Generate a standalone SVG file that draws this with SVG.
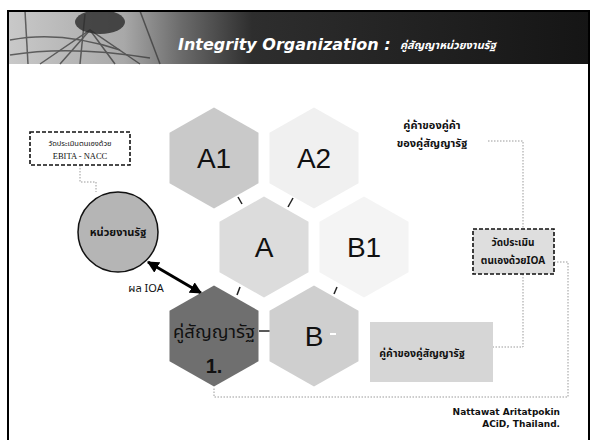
<svg xmlns="http://www.w3.org/2000/svg" width="592" height="440" viewBox="0 0 592 440">
<style>
.th{font-family:"Noto Sans Thai","Noto Sans","DejaVu Sans",sans-serif}
.lbl{font-family:"Liberation Sans",Arial,sans-serif;font-size:28px;fill:#111;text-anchor:middle}
.tick{stroke:#222;stroke-width:1.5;fill:none}
.dot{stroke:#9a9a9a;stroke-width:1;stroke-dasharray:1.5 1.5;fill:none}
.dash{stroke:#111;stroke-width:1.6;stroke-dasharray:4 2}
.bt{font-weight:bold;fill:#111;text-anchor:middle}
</style>
<defs>
<path id="hex" d="M0,-50.5 L44.5,-25.25 L44.5,25.25 L0,50.5 L-44.5,25.25 L-44.5,-25.25 Z"/>
<linearGradient id="hdr" x1="0" y1="0" x2="1" y2="0">
<stop offset="0" stop-color="#c9c9c9"/>
<stop offset="0.2" stop-color="#a8a8a8"/>
<stop offset="0.3" stop-color="#6a6a6a"/>
<stop offset="0.42" stop-color="#2e2e2e"/>
<stop offset="1" stop-color="#151515"/>
</linearGradient>
<marker id="ah" viewBox="0 0 10 10" refX="9" refY="5" markerWidth="4" markerHeight="4" orient="auto-start-reverse" markerUnits="strokeWidth">
<path d="M0,0 L10,5 L0,10 Z" fill="#000"/>
</marker>
</defs>
<rect width="592" height="440" fill="#fff"/>
<g id="header">
<rect x="8" y="11" width="581" height="53" fill="url(#hdr)"/>
<g stroke="#333" stroke-width="1.5" fill="none" opacity="0.7">
<path d="M25,11 L28,64"/>
<path d="M85,14 L80,64"/>
<path d="M140,11 L160,64"/>
<path d="M10,40 Q60,30 120,50"/>
<path d="M10,55 Q70,45 150,58"/>
<path d="M40,64 L90,30 L140,64"/>
<path d="M90,30 L60,64 M90,30 L115,64"/>
</g>
<ellipse cx="100" cy="22" rx="25" ry="12" fill="#2a2a2a" opacity="0.8"/>
<text x="178" y="50" font-family="DejaVu Sans,Verdana,sans-serif" font-size="16" font-weight="bold" font-style="italic" fill="#fff">Integrity Organization :</text>
<text x="400" y="49" class="th" font-size="11" font-weight="bold" font-style="italic" fill="#fff">คู่สัญญาหน่วยงานรัฐ</text>
</g>
<rect id="frame" x="8" y="11" width="581" height="440" fill="none" stroke="#000" stroke-width="2"/>
<g id="connectors">
<path class="dot" d="M80,165 V182 H96 V192"/>
<path class="dot" d="M488,141 H523 V229"/>
<path class="dot" d="M554,262 H568 V397 H214 V387"/>
<path class="dot" d="M523,274 V347 H493"/>
<line class="tick" x1="238" y1="197" x2="242" y2="204"/>
<line class="tick" x1="293" y1="198" x2="288" y2="207"/>
<line class="tick" x1="240" y1="287" x2="237" y2="295"/>
<line class="tick" x1="337" y1="287" x2="334" y2="294"/>
<line class="tick" x1="259" y1="331" x2="270" y2="331"/>
<line x1="148" y1="262" x2="201" y2="293" stroke="#000" stroke-width="3" marker-start="url(#ah)" marker-end="url(#ah)"/>
</g>
<g id="hexA1"><use href="#hex" x="214" y="158" fill="#c9c9c9"/><text class="lbl" x="214" y="168">A1</text></g>
<g id="hexA2"><use href="#hex" x="314" y="158" fill="#f0f0f0"/><text class="lbl" x="314" y="168">A2</text></g>
<g id="hexA"><use href="#hex" x="264" y="247" fill="#dcdcdc"/><text class="lbl" x="264" y="257">A</text></g>
<g id="hexB1"><use href="#hex" x="364" y="247" fill="#f4f4f4"/><text class="lbl" x="364" y="257">B1</text></g>
<g id="hexK"><use href="#hex" x="214" y="336" fill="#6f6f6f"/>
<text class="th" x="214" y="338" font-size="18" fill="#111" text-anchor="middle" textLength="82" lengthAdjust="spacingAndGlyphs">คู่สัญญารัฐ</text>
<text x="214" y="373" font-family="Liberation Sans,Arial,sans-serif" font-size="20" font-weight="bold" fill="#111" text-anchor="middle">1.</text></g>
<g id="hexB"><use href="#hex" x="314" y="336" fill="#cfcfcf"/><text class="lbl" x="314" y="346">B</text>
<line x1="330" y1="334" x2="336" y2="334" stroke="#fff" stroke-width="2"/></g>
<g id="boxLeft">
<rect class="dash" x="30" y="132" width="100" height="33" fill="#fff"/>
<text class="th" x="80" y="146" font-size="7.5" fill="#111" text-anchor="middle">วัดประเมินตนเองด้วย</text>
<text x="80" y="159" font-family="Liberation Serif,serif" font-size="8.5" fill="#111" text-anchor="middle">EBITA - NACC</text>
</g>
<g id="circle">
<circle cx="118" cy="232" r="40" fill="#b5b5b5" stroke="#111" stroke-width="1.5"/>
<text class="th bt" x="118" y="236" font-size="11">หน่วยงานรัฐ</text>
</g>
<text id="ioa" x="146" y="292" class="th" font-size="11" fill="#111" text-anchor="middle">ผล IOA</text>
<g id="partner2">
<text class="th bt" x="432" y="129" font-size="11">คู่ค้าของคู่ค้า</text>
<text class="th bt" x="432" y="147" font-size="11">ของคู่สัญญารัฐ</text>
</g>
<g id="boxRight">
<rect class="dash" x="473" y="229" width="81" height="45" fill="#dedede"/>
<text class="th bt" x="513" y="246" font-size="10">วัดประเมิน</text>
<text class="th bt" x="513" y="264" font-size="10">ตนเองด้วยIOA</text>
</g>
<g id="partner1">
<rect x="370" y="322" width="123" height="60" fill="#d6d6d6"/>
<text class="th bt" x="422" y="357" font-size="10.5">คู่ค้าของคู่สัญญารัฐ</text>
</g>
<g id="footer" font-family="DejaVu Sans,Verdana,sans-serif" font-size="9" font-weight="bold" fill="#111" text-anchor="end">
<text x="560" y="415">Nattawat Aritatpokin</text>
<text x="560" y="427">ACiD, Thailand.</text>
</g>
</svg>
